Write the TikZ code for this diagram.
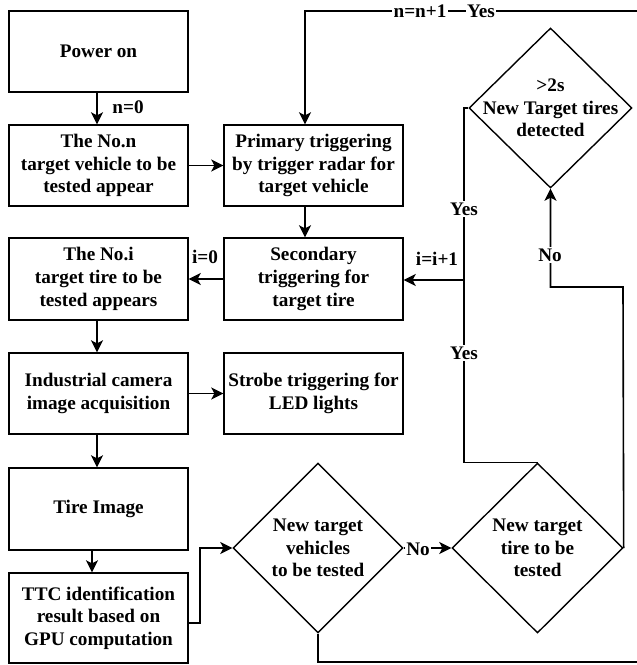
\documentclass[tikz,border=0pt]{standalone}
\usepackage{fontspec}
\setmainfont{Liberation Serif}
\usetikzlibrary{shapes.geometric,arrows.meta}
\newcommand{\figfont}{\fontsize{19.2}{22.7}\selectfont\bfseries}
\begin{document}
\begin{tikzpicture}[x=1pt,y=-1pt,
  box/.style={draw, line width=1.4pt, minimum width=179pt, align=center, inner sep=0pt, font=\figfont},
  dia/.style={draw, diamond, line width=1.4pt, inner sep=0pt, aspect=1},
  txt/.style={align=center, inner sep=0pt, font=\figfont},
  lab/.style={fill=white, inner sep=1.2pt, font=\figfont},
  ln/.style={line width=1.6pt},
  arr/.style={line width=1.6pt, -{Stealth[length=12pt,width=12pt,inset=3pt]}}]
\useasboundingbox (0,0) rectangle (637,665);
\clip (0,0) rectangle (637,665);
\fill[white] (0,0) rectangle (637,665);

% left column
\node[box, minimum height=81pt] (power) at (98.5,51.5) {Power on};
\node[box, minimum height=81pt] (non) at (98.5,165.5) {The No.n\\target vehicle to be\\tested appear};
\node[box, minimum height=82pt] (noi) at (98.5,279) {The No.i\\target tire to be\\tested appears};
\node[box, minimum height=81pt] (cam) at (98.5,393.5) {Industrial camera\\image acquisition};
\node[box, minimum height=82pt] (tire) at (98.5,509) {Tire Image};
\node[box, minimum height=90pt] (ttc) at (98.5,618) {TTC identification\\result based on\\GPU computation};

% middle column
\node[box, minimum height=81pt] (prim) at (313.5,165.5) {Primary triggering\\by trigger radar for\\target vehicle};
\node[box, minimum height=82pt] (sec) at (313.5,279) {Secondary\\triggering for\\target tire};
\node[box, minimum height=81pt] (strobe) at (313.5,393.5) {Strobe triggering for\\LED lights};

% diamonds
\node[dia, minimum width=170pt, minimum height=170pt] (d1) at (318,548) {};
\node[txt] (d1t) at (d1) {New target\\vehicles\\to be tested};
\node[dia, minimum width=171pt, minimum height=170pt] (d2) at (537.5,548) {};
\node[txt] (d2t) at (d2) {New target\\tire to be\\tested};
\node[dia, minimum width=163pt, minimum height=160pt] (d3) at (550.5,108) {};
\node[txt] (d3t) at (d3) {>2s\\New Target tires\\detected};

% helper coordinates
\coordinate (j1) at (464,280);
\coordinate (k1) at (623,287);
\coordinate (t1) at (200,548);
\coordinate (e1) at (645,11);
\coordinate (e2) at (645,662);

% connectors
\draw[arr] ([xshift=-1.5pt]power.south) -- ([xshift=-1.5pt]non.north);
\draw[arr] (non.east) -- (prim.west);
\draw[arr] ([xshift=-8.5pt]prim.south) -- ([xshift=-8.5pt]sec.north);
\draw[arr] (sec.west) -- (noi.east);
\draw[arr] ([xshift=-1.5pt]noi.south) -- ([xshift=-1.5pt]cam.north);
\draw[arr] (cam.east) -- (strobe.west);
\draw[arr] ([xshift=-1.5pt]cam.south) -- ([xshift=-1.5pt]tire.north);
\draw[arr] ([xshift=-6.5pt]tire.south) -- ([xshift=-6.5pt]ttc.north);
\draw[arr] ([yshift=-5pt]ttc.east) -| (t1) -- (d1.west);
\draw[arr] (d1.east) -- (d2.west);
\draw[ln] (d2.north) -| (j1) |- (d3.west);
\draw[arr] (j1) -- (j1 -| sec.east);
\draw[arr] (d2.east) -- (k1) -| (d3.south);
\draw[arr] (e1) -| ([xshift=-8.5pt]prim.north);
\draw[ln] (d1.south) |- (e2);

% labels
\node[lab] (l1) at (128,107) {n=0};
\node[lab] (l2) at (205,257) {i=0};
\node[lab] (l3) at (437,259) {i=i+1};
\node[lab] (l4) at (464,209) {Yes};
\node[lab] (l5) at (464,353) {Yes};
\node[lab] (l6) at (550,255) {No};
\node[lab] (l7) at (418,549) {No};
\node[lab] (l8) at (420,11) {n=n+1};
\node[lab] (l9) at (481,11) {Yes};
\end{tikzpicture}
\end{document}
